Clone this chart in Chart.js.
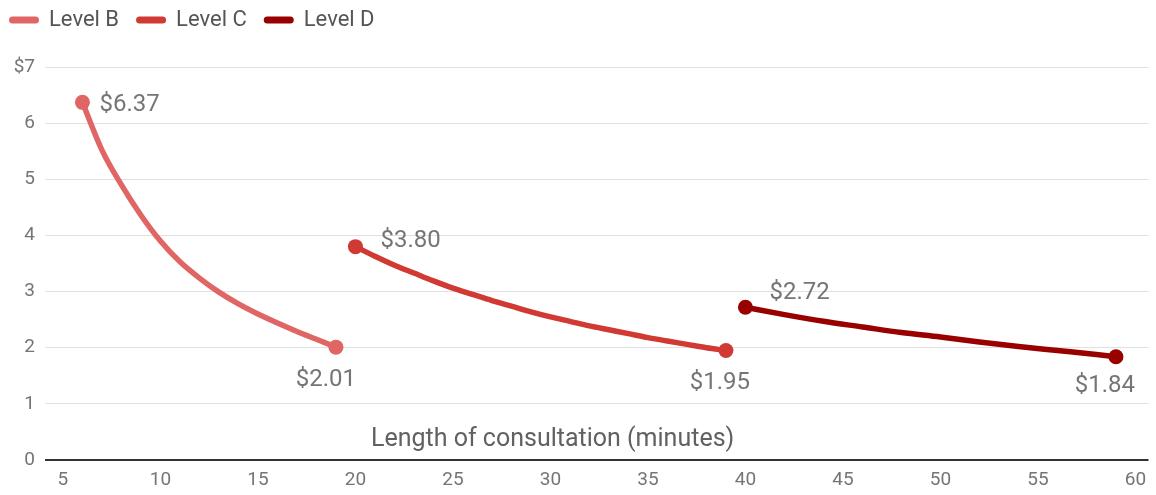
<!DOCTYPE html>
<html>
<head>
<meta charset="utf-8">
<script src="https://cdn.jsdelivr.net/npm/chart.js@4.4.1/dist/chart.umd.min.js"></script>
<style>
  html, body { margin: 0; padding: 0; background: #ffffff; }
  canvas { display: block; }
</style>
</head>
<body>
<canvas id="chart" width="1156" height="495"></canvas>
<script>
// Cost per minute of consultation, by consultation level
const seriesNames = ['Level B', 'Level C', 'Level D'];
const seriesColors = ['#e06666', '#d03a33', '#990000'];

const levelBMinutes = [6, 7, 8, 9, 10, 11, 12, 13, 14, 15, 16, 17, 18, 19];
const levelBCost = [6.37, 5.52, 4.90, 4.36, 3.90, 3.53, 3.24, 2.99, 2.78, 2.60, 2.44, 2.29, 2.15, 2.01];

const levelCMinutes = [20, 21, 22, 23, 24, 25, 26, 27, 28, 29, 30, 31, 32, 33, 34, 35, 36, 37, 38, 39];
const levelCCost = [3.80, 3.63, 3.47, 3.33, 3.19, 3.06, 2.95, 2.84, 2.74, 2.64, 2.55, 2.47, 2.39, 2.32, 2.25, 2.18, 2.12, 2.06, 2.00, 1.95];

const levelDMinutes = [40, 42, 44, 46, 48, 50, 52, 54, 56, 58, 59];
const levelDCost = [2.72, 2.59, 2.47, 2.37, 2.27, 2.19, 2.10, 2.02, 1.95, 1.88, 1.84];

const xTickValues = [5, 10, 15, 20, 25, 30, 35, 40, 45, 50, 55, 60];
const yTickValues = [0, 1, 2, 3, 4, 5, 6, 7];
const xAxisTitle = 'Length of consultation (minutes)';

const FONT = 'Roboto, "Noto Sans", sans-serif';
const TEXT_GREY = '#757575';

function toPoints(xs, ys) {
  return xs.map((x, i) => ({ x: x, y: ys[i] }));
}

const allSeries = [
  toPoints(levelBMinutes, levelBCost),
  toPoints(levelCMinutes, levelCCost),
  toPoints(levelDMinutes, levelDCost)
];

// label placement for the first and last point of each line (pixel offsets)
const startLabelOffsets = [[17, 3], [25, -6], [24, -14]];
const endLabelOffsets = [[-10, 33], [-6, 32], [-11, 29]];

const endpointLabels = {
  id: 'endpointLabels',
  afterDatasetsDraw(chart) {
    const ctx = chart.ctx;
    ctx.save();
    ctx.font = '24px ' + FONT;
    ctx.fillStyle = TEXT_GREY;
    ctx.textBaseline = 'middle';
    chart.data.datasets.forEach((ds, i) => {
      const meta = chart.getDatasetMeta(i);
      const first = meta.data[0];
      const last = meta.data[meta.data.length - 1];
      const firstVal = ds.data[0].y;
      const lastVal = ds.data[ds.data.length - 1].y;
      ctx.textAlign = 'left';
      ctx.fillText('$' + firstVal.toFixed(2), first.x + startLabelOffsets[i][0], first.y + startLabelOffsets[i][1]);
      ctx.textAlign = 'center';
      ctx.fillText('$' + lastVal.toFixed(2), last.x + endLabelOffsets[i][0], last.y + endLabelOffsets[i][1]);
    });
    ctx.restore();
  }
};

// axis title sits inside the plot, just above the baseline
const innerAxisTitle = {
  id: 'innerAxisTitle',
  afterDraw(chart) {
    const ctx = chart.ctx;
    const area = chart.chartArea;
    ctx.save();
    ctx.font = '25px ' + FONT;
    ctx.fillStyle = '#616161';
    ctx.textAlign = 'center';
    ctx.textBaseline = 'middle';
    ctx.fillText(xAxisTitle, area.left + (area.right - area.left) * 0.460, area.bottom - 20);
    ctx.restore();
  }
};

// legend with rounded line swatches along the top-left
const swatchLegend = {
  id: 'swatchLegend',
  afterDraw(chart) {
    const ctx = chart.ctx;
    ctx.save();
    ctx.font = '22px ' + FONT;
    ctx.textBaseline = 'middle';
    ctx.textAlign = 'left';
    let x = 9;
    const y = 20;
    chart.data.datasets.forEach((ds) => {
      ctx.strokeStyle = ds.borderColor;
      ctx.lineWidth = 7;
      ctx.lineCap = 'round';
      ctx.beginPath();
      ctx.moveTo(x + 3.5, y);
      ctx.lineTo(x + 26.5, y);
      ctx.stroke();
      ctx.fillStyle = '#555555';
      const tx = x + 40;
      ctx.fillText(ds.label, tx, y);
      x = tx + ctx.measureText(ds.label).width + 17;
    });
    ctx.restore();
  }
};

const datasets = allSeries.map((pts, i) => ({
  label: seriesNames[i],
  data: pts,
  borderColor: seriesColors[i],
  backgroundColor: seriesColors[i],
  borderWidth: 5.5,
  cubicInterpolationMode: 'monotone',
  borderCapStyle: 'round',
  borderJoinStyle: 'round',
  pointRadius: (c) => (c.dataIndex === 0 || c.dataIndex === pts.length - 1) ? 7.5 : 0,
  pointHoverRadius: 0,
  pointBorderWidth: 0,
  pointBackgroundColor: seriesColors[i],
  fill: false
}));

new Chart(document.getElementById('chart'), {
  type: 'line',
  data: { datasets: datasets },
  plugins: [endpointLabels, innerAxisTitle, swatchLegend],
  options: {
    responsive: false,
    animation: false,
    devicePixelRatio: 1,
    layout: { padding: { top: 67, right: 6, left: 0, bottom: 0 } },
    plugins: {
      legend: { display: false },
      tooltip: { enabled: false }
    },
    scales: {
      x: {
        type: 'linear',
        min: 4.08,
        max: 60.67,
        afterBuildTicks(scale) {
          scale.ticks = xTickValues.map(v => ({ value: v }));
        },
        afterFit(scale) { scale.height = 35; },
        grid: { display: false, drawTicks: false },
        border: { display: false },
        ticks: {
          padding: 9,
          color: TEXT_GREY,
          font: { family: FONT, size: 19 },
          maxRotation: 0,
          autoSkip: false
        }
      },
      y: {
        min: 0,
        max: 7,
        afterBuildTicks(scale) {
          scale.ticks = yTickValues.map(v => ({ value: v }));
        },
        afterFit(scale) { scale.width = 45; },
        grid: {
          drawTicks: false,
          color: (c) => c.tick && c.tick.value === 0 ? '#333333' : '#e0e0e0',
          lineWidth: (c) => c.tick && c.tick.value === 0 ? 2 : 1
        },
        border: { display: false },
        ticks: {
          padding: 10,
          color: TEXT_GREY,
          font: { family: FONT, size: 19 },
          callback: (v) => v === 7 ? '$' + v : String(v)
        }
      }
    }
  }
});
</script>
</body>
</html>
